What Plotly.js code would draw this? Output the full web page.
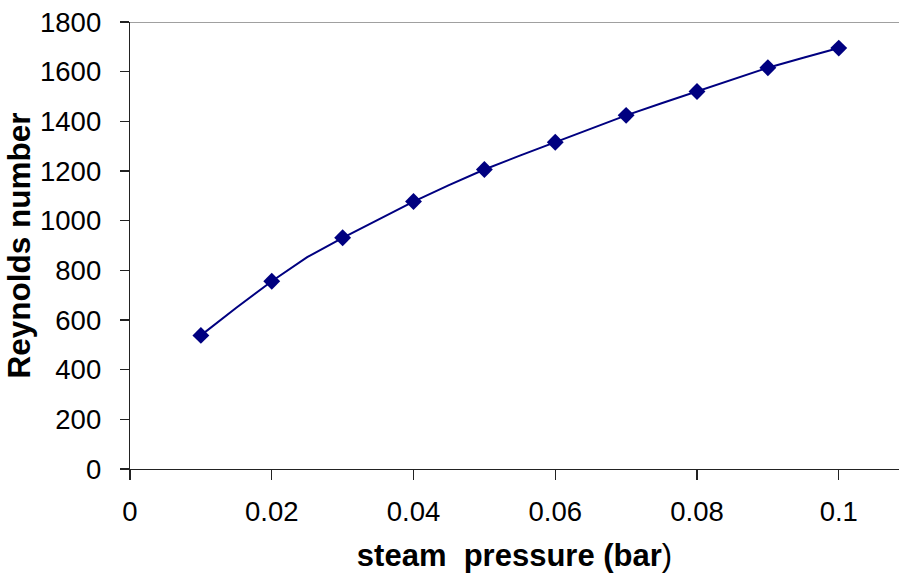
<!DOCTYPE html>
<html>
<head>
<meta charset="utf-8">
<script src="https://cdn.plot.ly/plotly-3.0.1.min.js"></script>
<style>html,body{margin:0;padding:0;background:#fff;}#chart{width:899px;height:578px;}</style>
</head>
<body>
<div id="chart"></div>
<script>
// steam pressure (bar) — line passes through every point, markers at every 0.01
const pressure = [0.01, 0.015, 0.02, 0.025, 0.03, 0.035, 0.04, 0.045, 0.05, 0.055, 0.06, 0.065, 0.07, 0.075, 0.08, 0.085, 0.09, 0.095, 0.1];
const reynolds = [538, 649, 756, 853, 931, 1004, 1077, 1143, 1206, 1262, 1316, 1372, 1424, 1473, 1520, 1568, 1616, 1656, 1695];
const markedPressure = [0.01, 0.02, 0.03, 0.04, 0.05, 0.06, 0.07, 0.08, 0.09, 0.1];
const xTickVals = [0, 0.02, 0.04, 0.06, 0.08, 0.1];
const xTickText = ["0", "0.02", "0.04", "0.06", "0.08", "0.1"];
const yTickVals = [0, 200, 400, 600, 800, 1000, 1200, 1400, 1600, 1800];

const markedReynolds = markedPressure.map(p => reynolds[pressure.findIndex(q => Math.abs(q - p) < 1e-9)]);

const fontFam = "Liberation Sans, Arial, sans-serif";
const traces = [
  {x: pressure, y: reynolds, mode: "lines", line: {color: "#000080", width: 2}, hoverinfo: "skip", showlegend: false},
  {x: markedPressure, y: markedReynolds, mode: "markers", marker: {symbol: "diamond", size: 13, color: "#000080"}, showlegend: false}
];
const layout = {
  width: 899, height: 578,
  margin: {l: 130, r: 0, t: 22, b: 109, pad: 0},
  paper_bgcolor: "#fff", plot_bgcolor: "#fff",
  font: {family: fontFam, color: "#000", size: 27.5},
  xaxis: {
    range: [0, 0.1085], tickvals: xTickVals, ticktext: xTickText,
    showgrid: false, zeroline: false, showline: true, linecolor: "#222", linewidth: 1.3,
    ticks: "outside", ticklen: 10, tickcolor: "#222", tickwidth: 1.3,
    ticklabelstandoff: 8,
    tickfont: {size: 27.5, family: fontFam},
    title: {text: "steam  pressure (bar<span style=\"font-weight:normal\">)</span>", font: {size: 31, family: fontFam, weight: "bold"}, standoff: 18}
  },
  yaxis: {
    range: [0, 1800], tickvals: yTickVals,
    showgrid: false, zeroline: false, showline: true, linecolor: "#222", linewidth: 1.3,
    ticks: "outside", ticklen: 9, tickcolor: "#222", tickwidth: 1.3,
    ticklabelstandoff: 13,
    tickfont: {size: 27.5, family: fontFam},
    title: {text: "Reynolds number", font: {size: 31.5, family: fontFam, weight: "bold"}, standoff: 0}
  },
  shapes: [
    {type: "line", xref: "paper", yref: "y", x0: 0, x1: 1, y0: 1800, y1: 1800, line: {color: "#808080", width: 1.3}}
  ]
};
Plotly.newPlot("chart", traces, layout, {displayModeBar: false, staticPlot: true});
</script>
</body>
</html>
